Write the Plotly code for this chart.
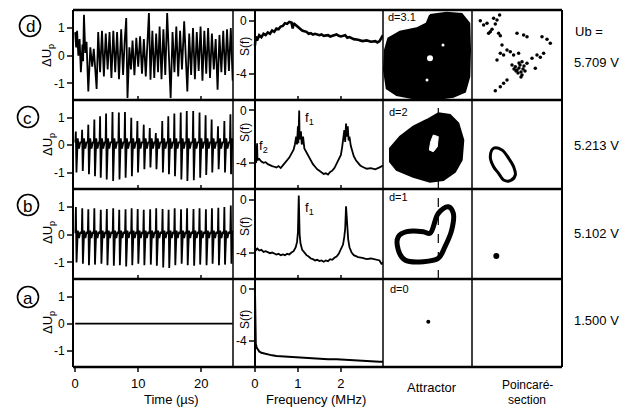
import plotly.graph_objects as go

W, H = 636, 408
FONT = "Liberation Sans, Arial, sans-serif"

# ---------------- data ----------------
rows = ["d", "c", "b", "a"]
ub_labels = ["5.709 V", "5.213 V", "5.102 V", "1.500 V"]
dims = ["d=3.1", "d=2", "d=1", "d=0"]
time_ticks = [0, 10, 20]
freq_ticks = [0, 1, 2]

# (d) chaotic signal: successive extrema (time in µs, ΔUp)
d_t = [0.0, 0.15, 0.3, 0.5, 0.7, 0.9, 1.15, 1.25, 1.39, 1.6, 1.8, 2.08, 2.4, 2.7, 2.95, 3.4,
       3.65, 3.95, 4.25, 4.55, 4.85, 5.15, 5.45, 5.75, 6.05, 6.35, 6.65, 6.95, 7.3, 7.6, 7.85,
       8.1, 8.3, 8.6, 8.85, 9.1, 9.4, 9.7, 10.0, 10.3, 10.6, 10.9, 11.2, 11.45, 11.7, 11.95,
       12.25, 12.55, 12.85, 13.15, 13.4, 13.7, 14.0, 14.3, 14.6, 15.15, 15.45, 15.75, 16.05,
       16.35, 16.65, 16.95, 17.3, 17.8, 18.1, 18.4, 18.7, 19.0, 19.3, 19.6, 19.9, 20.2, 20.5,
       20.8, 21.1, 21.4, 21.7, 22.0, 22.3, 22.6, 22.9, 23.2, 23.5, 23.8, 24.1, 24.4, 24.7, 25.0]
d_v = [0.85, 0.3, 0.9, 0.0, 0.6, -0.6, 0.4, -0.2, 1.48, 0.1, 0.5, -1.29, 0.3, -0.4, 0.25, -1.2,
       0.85, -0.6, 0.9, -0.75, 0.8, -0.5, 0.85, -0.8, 0.9, -0.6, 0.85, -0.85, 0.95, -0.7, 0.5,
       1.36, -1.53, 0.3, -0.5, 0.55, -0.7, 0.65, -0.4, 0.7, -0.65, 0.6, -0.75, 0.4, 1.54, -0.87,
       0.9, -0.8, 0.8, -0.6, 1.05, -0.85, 0.95, -0.7, 1.54, -1.53, 0.85, -0.6, 1.05,
       -0.75, 0.9, -0.5, 1.24, -1.29, 0.8, -0.7, 1.0, -0.85, 0.85, -0.55, 1.05, -0.9, 0.9,
       -0.65, 1.0, -0.8, 0.8, -0.5, 0.6, -1.23, 0.75, -0.6, 0.9, -0.7, 0.95, -0.55, 1.0, -0.9]

# (c) quasi-periodic signal: spike times, spike maxima and minima
c_t = [0.1, 1.1, 2.08, 3.04, 3.95, 4.9, 5.92, 6.93, 7.9, 8.9, 9.87, 10.88, 11.84, 12.8, 13.82,
       14.78, 15.74, 16.75, 17.71, 18.73, 19.74, 20.7, 21.66, 22.67, 23.68, 24.64]
c_peak = [0.5, 0.56, 0.75, 0.94, 1.06, 1.16, 1.21, 1.19, 1.21, 1.0, 0.88, 0.75, 0.63, 0.44,
          0.88, 1.06, 1.16, 1.19, 1.25, 1.25, 1.19, 1.09, 0.94, 0.69, 0.88, 1.13]
c_trough = [-1.0, -0.94, -1.06, -1.13, -1.19, -1.25, -1.31, -1.25, -1.19, -1.13, -1.0, -0.88,
            -0.81, -0.88, -1.0, -1.06, -1.13, -1.25, -1.31, -1.28, -1.19, -1.09, -1.0, -0.88,
            -1.0, -1.06]

# (b) periodic signal: spike times, spike maxima and minima
b_t = [0.11, 1.12, 2.08, 3.04, 4.06, 5.02, 6.03, 6.99, 7.99, 8.96, 9.92, 10.88, 11.9, 12.86,
       13.87, 14.83, 15.79, 16.8, 17.76, 18.78, 19.74, 20.75, 21.71, 22.72, 23.68, 24.7]
b_peak = [1.0, 0.95, 0.92, 0.95, 0.9, 0.93, 0.95, 0.9, 0.92, 0.95, 0.93, 0.9, 0.92, 0.95,
          0.93, 0.9, 0.95, 0.92, 0.95, 0.93, 0.95, 0.92, 0.95, 0.97, 1.0, 1.05]
b_trough = [-1.0, -1.05, -1.1, -1.08, -1.05, -1.1, -1.12, -1.1, -1.15, -1.1, -1.05, -1.1,
            -1.08, -1.12, -1.18, -1.2, -1.1, -1.05, -1.1, -1.12, -1.08, -1.1, -1.05, -1.1,
            -1.08, -1.05]

# (a) fixed point
a_t = [0.0, 25.0]
a_v = [0.0, 0.0]

# spectra S(f), frequency in MHz
sd_f = [0.0, 0.02, 0.05, 0.1, 0.15, 0.2, 0.25, 0.3, 0.35, 0.4, 0.45, 0.5, 0.55, 0.6, 0.65, 0.7,
        0.75, 0.8, 0.85, 0.88, 0.9, 0.95, 1.0, 1.05, 1.1, 1.15, 1.2, 1.25, 1.3, 1.35, 1.4, 1.5,
        1.55, 1.6, 1.7, 1.75, 1.8, 1.9, 1.95, 2.0, 2.1, 2.15, 2.2, 2.3, 2.4, 2.5, 2.6, 2.7, 2.8,
        2.85, 2.9, 2.95, 2.98]
sd_s = [-1.9, -1.2, -1.5, -1.1, -1.25, -1.0, -1.1, -0.9, -1.0, -0.75, -0.85, -0.6, -0.65, -0.45,
        -0.4, -0.2, -0.25, -0.1, -0.15, -0.6, -0.2, -0.35, -0.5, -0.6, -0.75, -0.8, -0.85, -1.0,
        -0.95, -1.05, -1.0, -1.1, -1.05, -1.15, -1.1, -1.2, -1.15, -1.05, -1.15, -1.2, -1.1,
        -1.3, -1.25, -1.4, -1.45, -1.55, -1.5, -1.6, -1.55, -1.65, -1.55, -1.2, -1.1]

sc_f = [0.0, 0.03, 0.05, 0.06, 0.1, 0.15, 0.2, 0.25, 0.3, 0.35, 0.4, 0.45, 0.5, 0.55, 0.6, 0.65,
        0.7, 0.75, 0.8, 0.85, 0.9, 0.93, 0.96, 0.98, 1.0, 1.01, 1.03, 1.04, 1.07, 1.09, 1.12,
        1.15, 1.2, 1.25, 1.3, 1.35, 1.4, 1.45, 1.5, 1.55, 1.6, 1.65, 1.7, 1.75, 1.8, 1.85, 1.9,
        1.95, 2.0, 2.03, 2.06, 2.08, 2.1, 2.12, 2.14, 2.16, 2.18, 2.2, 2.23, 2.27, 2.3, 2.35,
        2.4, 2.45, 2.5, 2.55, 2.6, 2.7, 2.8, 2.9, 2.98]
sc_s = [-3.9, -4.0, -2.5, -3.8, -3.7, -3.9, -4.0, -3.95, -4.1, -4.2, -4.25, -4.3, -4.35, -4.25,
        -4.4, -4.2, -4.0, -3.8, -3.6, -3.3, -3.0, -2.6, -2.0, -2.6, -1.2, -2.5, 0.0, -2.2, -1.6,
        -2.6, -2.0, -2.9, -3.2, -3.5, -3.9, -4.1, -4.3, -4.5, -4.6, -4.75, -4.85, -4.8, -4.9,
        -4.7, -4.6, -4.4, -4.1, -3.8, -3.4, -2.8, -2.2, -1.5, -2.4, -1.0, -2.0, -1.2, -2.3,
        -2.0, -2.7, -3.2, -3.5, -3.8, -4.0, -4.2, -4.3, -4.35, -4.45, -4.4, -4.5, -4.35, -4.2]

sb_f = [0.0, 0.03, 0.06, 0.1, 0.15, 0.2, 0.25, 0.3, 0.35, 0.4, 0.45, 0.5, 0.55, 0.6, 0.65, 0.7,
        0.75, 0.8, 0.85, 0.9, 0.95, 0.98, 1.0, 1.02, 1.04, 1.06, 1.1, 1.15, 1.2, 1.25, 1.3,
        1.35, 1.4, 1.45, 1.5, 1.55, 1.6, 1.65, 1.7, 1.75, 1.8, 1.85, 1.9, 1.95, 2.0, 2.05, 2.08,
        2.1, 2.12, 2.14, 2.17, 2.2, 2.25, 2.3, 2.35, 2.4, 2.5, 2.6, 2.7, 2.8, 2.9, 2.95, 2.98]
sb_s = [-3.6, -3.8, -3.7, -3.85, -3.8, -3.95, -3.9, -4.0, -4.05, -4.0, -4.1, -4.15, -4.1, -4.2,
        -4.15, -4.2, -4.1, -4.15, -4.0, -3.9, -3.6, -3.2, -2.5, 0.3, -2.6, -3.3, -3.8, -4.0,
        -4.2, -4.3, -4.45, -4.5, -4.6, -4.55, -4.65, -4.6, -4.7, -4.6, -4.65, -4.5, -4.55,
        -4.4, -4.3, -4.1, -3.8, -3.4, -2.8, -2.2, -0.5, -2.0, -3.0, -3.6, -4.0, -4.2, -4.3,
        -4.35, -4.4, -4.5, -4.45, -4.55, -4.6, -4.9, -4.7]

sa_f = [0.0, 0.005, 0.01, 0.02, 0.04, 0.07, 0.1, 0.15, 0.2, 0.3, 0.4, 0.5, 0.7, 0.9, 1.1, 1.3,
        1.5, 1.7, 1.9, 2.1, 2.3, 2.5, 2.7, 2.9, 2.98]
sa_s = [0.0, -2.5, -3.6, -4.2, -4.5, -4.7, -4.8, -4.9, -4.95, -5.05, -5.1, -5.15, -5.2, -5.25,
        -5.3, -5.3, -5.35, -5.4, -5.4, -5.45, -5.5, -5.5, -5.55, -5.6, -5.6]

# attractors (arbitrary phase-space units, 0..90)
att_d_x = [47, 63.7, 78.7, 86.3, 87, 86.3, 82, 70.3, 50.3, 30.3, 13.7, 3.7, 1, 2, 5.3, 17, 33.7, 43.7, 47]
att_d_y = [85, 87.3, 86, 76.7, 50, 23.3, 8.3, 3.3, 0.5, 1.7, 5, 11.7, 30, 50, 61.7, 68.3, 71.7, 76.7, 85]
att_d_holes_x = [47, 44, 60]
att_d_holes_y = [41.7, 20, 55]

att_c_x = [55.3, 67, 75.3, 80.3, 78.7, 72, 60.3, 47, 30.3, 13.7, 7, 7, 17, 30.3, 43.7, 52, 55.3]
att_c_y = [75.7, 74, 65.7, 49, 29, 17.3, 9, 7.3, 12.3, 19, 27.3, 40.7, 52.3, 62.3, 69, 74, 75.7]
att_c_hole_x = [50.3, 55.3, 54.3, 50.3, 46.3, 47.7, 50.3]
att_c_hole_y = [54, 52.3, 42.3, 37.3, 39, 47.3, 54]

att_b_x = [47, 55.3, 65.3, 70.3, 68.7, 62, 55.3, 40.3, 22, 15.3, 15.3, 23.7, 40.3, 47]
att_b_y = [45.7, 65.7, 72.3, 65.7, 49, 32.3, 20.7, 17.3, 19, 29, 42.3, 47.3, 47.3, 45.7]

att_a_x = [45.3]
att_a_y = [45.3]
section_x = 55.3

# Poincaré sections
pc_d_x = [8.3, 11.6, 15, 21.6, 25, 27.6, 23.3, 18.3, 20, 16.6, 26.6, 28.3, 45, 51.6, 55, 70, 75,
          78.3, 30, 35, 38.3, 41.6, 46.6, 50, 55, 60, 65, 68.3, 71.6, 63.3, 31.6, 28.3, 25, 40,
          43.3, 35, 31.6, 28.3, 23.3, 45, 47, 49, 51, 48, 46, 50, 52, 44, 42, 53, 47, 49]
pc_d_y = [79.3, 75, 76.7, 81.7, 80, 85, 76, 68.3, 70.7, 66.7, 66.7, 64.3, 66.7, 65, 63.3, 63.3,
          60.7, 56.7, 55, 50, 48.3, 45, 46.7, 38.3, 36.7, 41.7, 45, 42.7, 46.7, 31.7, 45, 46.7,
          40, 35, 33.3, 20, 16.7, 13.3, 9.3, 30, 32, 28, 31, 35, 27, 25, 34, 29, 31, 29, 37, 23]
pc_c_x = [21.6, 30, 36.7, 41.6, 43.3, 38.3, 31.6, 26.6, 21.6, 18.3, 21.6]
pc_c_y = [40.7, 39, 30.7, 22.3, 14, 8.3, 9, 15.7, 22.3, 32.3, 40.7]
pc_b_x = [24.3]
pc_b_y = [23]


# ---------------- helpers ----------------
def spikes(ts, peaks, troughs, pre, post):
    xs, ys = [], []
    for t0, p, q in zip(ts, peaks, troughs):
        xs += [t0 - 0.08, t0, t0 + 0.1, t0 + 0.3, t0 + 0.5, t0 + 0.7]
        ys += [pre, p, q, post, -0.12, 0.1]
    return xs, ys


X_EDGES = [73, 233, 383, 472, 562]
Y_EDGES = [10, 100, 189, 279, 367]


def px(x):
    return x / W


def py(y):
    return 1 - y / H


def names(r, c):
    i = r * 4 + c + 1
    s = "" if i == 1 else str(i)
    return "x" + s, "y" + s, s


fig = go.Figure()
BLACK = "black"

ts_data = [
    (d_t, d_v),
    spikes(c_t, c_peak, c_trough, 0.1, 0.25),
    spikes(b_t, b_peak, b_trough, 0.05, 0.15),
    (a_t, a_v),
]
sp_data = [(sd_f, sd_s), (sc_f, sc_s), (sb_f, sb_s), (sa_f, sa_s)]
sp_width = [2.6, 1.8, 1.8, 2.0]

for r in range(4):
    xa, ya, _ = names(r, 0)
    x, y = ts_data[r]
    fig.add_trace(go.Scatter(x=x, y=y, mode="lines", line=dict(color=BLACK, width=1.8),
                             xaxis=xa, yaxis=ya, hoverinfo="skip"))
    xa, ya, _ = names(r, 1)
    x, y = sp_data[r]
    fig.add_trace(go.Scatter(x=x, y=y, mode="lines", line=dict(color=BLACK, width=sp_width[r]),
                             xaxis=xa, yaxis=ya, hoverinfo="skip"))

# attractors
xa, ya, _ = names(0, 2)
fig.add_trace(go.Scatter(x=att_d_x, y=att_d_y, mode="lines", fill="toself", fillcolor=BLACK,
                         line=dict(color=BLACK, width=2), xaxis=xa, yaxis=ya))
fig.add_trace(go.Scatter(x=att_d_holes_x, y=att_d_holes_y, mode="markers",
                         marker=dict(color="white", size=[6, 3, 3], symbol="circle", opacity=1,
                                     line=dict(color="white", width=0)),
                         xaxis=xa, yaxis=ya))
xa, ya, _ = names(1, 2)
fig.add_trace(go.Scatter(x=[section_x] * 2, y=[0, 89], mode="lines",
                         line=dict(color=BLACK, width=1.2, dash="dash"), xaxis=xa, yaxis=ya))
fig.add_trace(go.Scatter(x=att_c_x, y=att_c_y, mode="lines", fill="toself", fillcolor=BLACK,
                         line=dict(color=BLACK, width=2), xaxis=xa, yaxis=ya))
fig.add_trace(go.Scatter(x=att_c_hole_x, y=att_c_hole_y, mode="lines", fill="toself",
                         fillcolor="white", line=dict(color="white", width=1), xaxis=xa, yaxis=ya))
xa, ya, _ = names(2, 2)
fig.add_trace(go.Scatter(x=[section_x] * 2, y=[0, 90], mode="lines",
                         line=dict(color=BLACK, width=1.2, dash="dash"), xaxis=xa, yaxis=ya))
fig.add_trace(go.Scatter(x=att_b_x, y=att_b_y, mode="lines",
                         line=dict(color=BLACK, width=5, shape="spline"), xaxis=xa, yaxis=ya))
xa, ya, _ = names(3, 2)
fig.add_trace(go.Scatter(x=att_a_x, y=att_a_y, mode="markers", marker=dict(color=BLACK, size=4),
                         xaxis=xa, yaxis=ya))

# Poincaré sections
xa, ya, _ = names(0, 3)
fig.add_trace(go.Scatter(x=pc_d_x, y=pc_d_y, mode="markers", marker=dict(color=BLACK, size=3.5),
                         xaxis=xa, yaxis=ya))
xa, ya, _ = names(1, 3)
fig.add_trace(go.Scatter(x=pc_c_x, y=pc_c_y, mode="lines",
                         line=dict(color=BLACK, width=3, shape="spline"), xaxis=xa, yaxis=ya))
xa, ya, _ = names(2, 3)
fig.add_trace(go.Scatter(x=pc_b_x, y=pc_b_y, mode="markers", marker=dict(color=BLACK, size=6),
                         xaxis=xa, yaxis=ya))

# ---------------- layout ----------------
layout = dict(width=W, height=H, margin=dict(l=0, r=0, t=0, b=0), showlegend=False,
              plot_bgcolor="white", paper_bgcolor="white",
              font=dict(family=FONT, size=12, color=BLACK))
panel_h = [90, 89, 90, 88]
spec_y0 = X_EDGES[1] + 0.51 / 3.49 * (X_EDGES[2] - X_EDGES[1])
for r in range(4):
    for c in range(4):
        xa, ya, s = names(r, c)
        xd = [px(X_EDGES[c]), px(X_EDGES[c + 1])]
        yd = [py(Y_EDGES[r + 1]), py(Y_EDGES[r])]
        xax = dict(domain=xd, anchor=ya, showgrid=False, zeroline=False, showline=False,
                   fixedrange=True)
        yax = dict(domain=yd, anchor=xa, showgrid=False, zeroline=False, showline=False,
                   fixedrange=True)
        if c == 0:
            xax.update(range=[-0.35, 25.05], tickvals=time_ticks if r == 3 else time_ticks[1:],
                       ticks="outside" if r == 3 else "inside", ticklen=4, tickwidth=1.5,
                       showticklabels=(r == 3), tickfont=dict(size=13))
            yax.update(range=[-1.6, 1.65], tickvals=[-1, 0, 1], ticktext=["-1", "0", "1"],
                       ticks="outside", ticklen=5, tickwidth=1.5, tickfont=dict(size=12))
        elif c == 1:
            xax.update(range=[-0.51, 2.98], tickvals=freq_ticks if r == 3 else freq_ticks[1:],
                       ticks="outside" if r == 3 else "inside", ticklen=4, tickwidth=1.5,
                       showticklabels=(r == 3), tickfont=dict(size=13))
            yax.update(range=[-6.0, 0.8], anchor="free", position=px(spec_y0),
                       tickvals=[0, -4], ticktext=["0", "-4"], ticks="outside", ticklen=5,
                       tickwidth=1.5, showline=True, linewidth=1.5, linecolor=BLACK,
                       tickfont=dict(size=12))
        else:
            xax.update(range=[0, X_EDGES[c + 1] - X_EDGES[c]], showticklabels=False, ticks="")
            yax.update(range=[0, panel_h[r]], showticklabels=False, ticks="")
        layout["xaxis" + s] = xax
        layout["yaxis" + s] = yax

shapes = []
for yy in Y_EDGES:
    shapes.append(dict(type="line", xref="paper", yref="paper", x0=px(X_EDGES[0]),
                       x1=px(X_EDGES[-1]), y0=py(yy), y1=py(yy),
                       line=dict(color=BLACK, width=2.5)))
for k, xx in enumerate(X_EDGES):
    shapes.append(dict(type="line", xref="paper", yref="paper", x0=px(xx), x1=px(xx),
                       y0=py(Y_EDGES[0]), y1=py(Y_EDGES[-1]),
                       line=dict(color=BLACK, width=2 if k in (0, 4) else 1.5)))

annotations = []
zero_y = [56, 145, 233, 323]
sf_y = [47, 133, 227, 320]
circ_c = [(30, 26), (28, 117), (28, 205), (28, 297)]
ub_y = [62, 145, 233, 320]
dim_pos = [(386, 17), (387, 112), (387, 197), (388, 289)]
for r in range(4):
    cx, cy = circ_c[r]
    rr = 10.5
    shapes.append(dict(type="circle", xref="paper", yref="paper", x0=px(cx - rr), x1=px(cx + rr),
                       y0=py(cy + rr), y1=py(cy - rr), line=dict(color=BLACK, width=1.6)))
    annotations.append(dict(x=px(cx), y=py(cy + 1), xref="paper", yref="paper", text=rows[r],
                            showarrow=False, font=dict(size=17), xanchor="center",
                            yanchor="middle"))
    annotations.append(dict(x=px(48), y=py(zero_y[r]), xref="paper", yref="paper",
                            text="ΔU<sub>p</sub>", textangle=-90, showarrow=False,
                            font=dict(size=13), xanchor="center", yanchor="middle"))
    annotations.append(dict(x=px(245), y=py(sf_y[r]), xref="paper", yref="paper",
                            text="S(f)", textangle=-90, showarrow=False,
                            font=dict(size=12), xanchor="center", yanchor="middle"))
    annotations.append(dict(x=px(572), y=py(ub_y[r]), xref="paper", yref="paper",
                            text=ub_labels[r], showarrow=False, font=dict(size=13),
                            xanchor="left", yanchor="middle"))
    dx, dy = dim_pos[r]
    annotations.append(dict(x=px(dx), y=py(dy), xref="paper", yref="paper", text=dims[r],
                            showarrow=False, font=dict(size=11), xanchor="left",
                            yanchor="middle"))

extra = [
    dict(x=px(573), y=py(32), text="Ub =", xanchor="left", font=dict(size=13)),
    dict(x=px(171), y=py(399), text="Time (µs)", xanchor="center", font=dict(size=13)),
    dict(x=px(316), y=py(399), text="Frequency (MHz)", xanchor="center", font=dict(size=13)),
    dict(x=px(432), y=py(387), text="Attractor", xanchor="center", font=dict(size=13)),
    dict(x=px(527), y=py(385), text="Poincaré-", xanchor="center", font=dict(size=12)),
    dict(x=px(527), y=py(400), text="section", xanchor="center", font=dict(size=12)),
    dict(x=px(309), y=py(118), text="f<sub>1</sub>", xanchor="center", font=dict(size=13)),
    dict(x=px(309), y=py(209), text="f<sub>1</sub>", xanchor="center", font=dict(size=13)),
    dict(x=px(263), y=py(146), text="f<sub>2</sub>", xanchor="center", font=dict(size=13)),
]
for a in extra:
    a.update(xref="paper", yref="paper", showarrow=False, yanchor="middle")
annotations += extra

layout["shapes"] = shapes
layout["annotations"] = annotations
fig.update_layout(**layout)
fig.write_html("out.html")
